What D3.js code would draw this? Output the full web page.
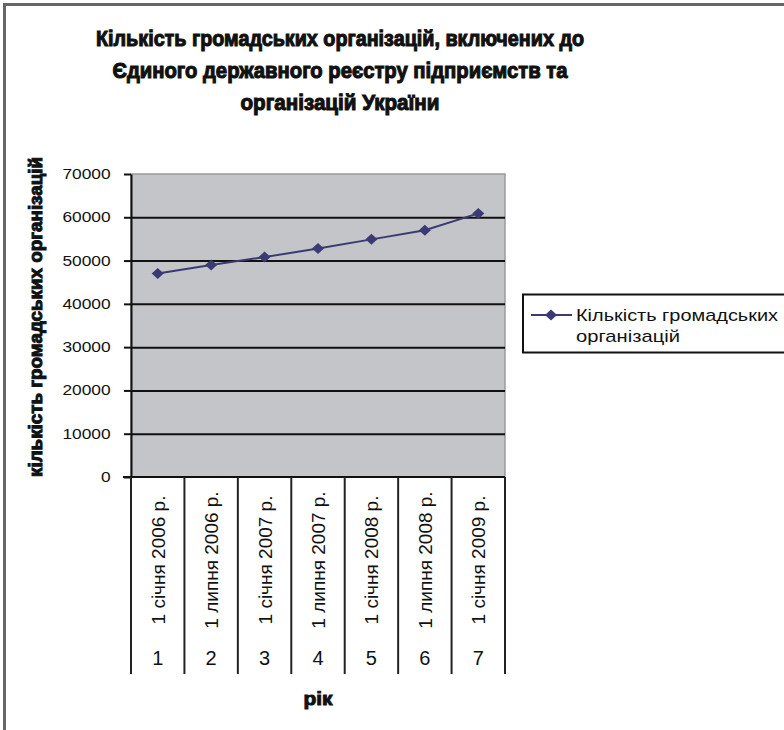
<!DOCTYPE html>
<html>
<head>
<meta charset="utf-8">
<script src="https://cdn.jsdelivr.net/npm/d3@7"></script>
<style>
  body { margin: 0; background: #fff; }
  svg { display: block; }
  text { fill: #111; }
</style>
</head>
<body>
<div class="c_chart"></div>
<script>
/* DATA
------------------------------------------------------ */
const categories = ["1 січня 2006 р.", "1 липня 2006 р.", "1 січня 2007 р.", "1 липня 2007 р.",
                    "1 січня 2008 р.", "1 липня 2008 р.", "1 січня 2009 р."];
const numbers = ["1", "2", "3", "4", "5", "6", "7"];
const values = [47000, 49000, 50800, 52800, 54900, 57000, 60900];
const yTicks = [0, 10000, 20000, 30000, 40000, 50000, 60000, 70000];
const titleLines = ["Кількість громадських організацій, включених до",
                    "Єдиного державного реєстру підприємств та",
                    "організацій України"];
const yTitle = "кількість громадських організацій";
const xTitle = "рік";
const legendLines = ["Кількість громадських", "організацій"];

/* SVG, FORMAT
------------------------------------------------------ */
const width = 784, height = 730;
const plot = {left: 131, right: 505, top: 174, bottom: 477};
const tableBottom = 674;
const lineColor = "#3b3a72";

let svg = d3.select(".c_chart").append("svg")
  .attr("width", width)
  .attr("height", height);

// outer chart frame (runs off the right and bottom edges)
svg.append("rect")
  .attr("x", 4.5).attr("y", 4.5)
  .attr("width", 820).attr("height", 760)
  .attr("fill", "#fff")
  .attr("stroke", "#666")
  .attr("stroke-width", 3);

/* SCALES
------------------------------------------------------ */
let x = d3.scaleBand()
  .domain(categories)
  .range([plot.left, plot.right]);

let y = d3.scaleLinear()
  .domain([0, 70000])
  .range([plot.bottom, plot.top]);

/* PLOT AREA
------------------------------------------------------ */
svg.append("rect")
  .attr("x", plot.left).attr("y", plot.top)
  .attr("width", plot.right - plot.left)
  .attr("height", plot.bottom - plot.top)
  .attr("fill", "#c4c5c8")
  .attr("stroke", "#9a9a9a")
  .attr("stroke-width", 1.5);

// gridlines
svg.append("g")
  .attr("transform", `translate(${plot.left},0)`)
  .call(d3.axisLeft(y).tickValues(yTicks.filter(d => d > 0 && d < 70000))
    .tickSize(-(plot.right - plot.left)).tickFormat(""))
  .call(g => g.select(".domain").remove())
  .call(g => g.selectAll("line").attr("stroke", "#111").attr("stroke-width", 2));

// y axis
let yAxis = svg.append("g")
  .attr("transform", `translate(${plot.left},0)`)
  .call(d3.axisLeft(y).tickValues(yTicks).tickFormat(d3.format("d"))
    .tickSize(7).tickPadding(0).tickSizeOuter(0));
yAxis.select(".domain").attr("stroke", "#111").attr("stroke-width", 2);
yAxis.selectAll(".tick line").attr("stroke", "#111").attr("stroke-width", 2);
yAxis.selectAll(".tick text")
  .attr("x", -16.4)
  .attr("transform", "scale(1.24,1)")
  .style("font-family", "'Liberation Sans', Arial, sans-serif")
  .style("font-size", "14px")
  .attr("fill", "#111");

// bottom axis line
svg.append("line")
  .attr("x1", plot.left - 8).attr("x2", plot.right)
  .attr("y1", plot.bottom).attr("y2", plot.bottom)
  .attr("stroke", "#111").attr("stroke-width", 2);

// category table lines
let bounds = categories.map(c => x(c)).concat([plot.right]);
svg.append("g").selectAll("line")
  .data(bounds)
  .join("line")
  .attr("x1", d => d).attr("x2", d => d)
  .attr("y1", plot.bottom).attr("y2", tableBottom)
  .attr("stroke", "#222").attr("stroke-width", 2);

// rotated date labels
svg.append("g").selectAll("text")
  .data(categories)
  .join("text")
  .attr("transform", d => `translate(${x(d) + x.bandwidth() / 2 + 7},560) rotate(-90)`)
  .attr("text-anchor", "middle")
  .style("font-family", "'Liberation Sans', Arial, sans-serif")
  .style("font-size", "19px")
  .text(d => d);

// number row
svg.append("g").selectAll("text")
  .data(numbers)
  .join("text")
  .attr("x", (d, i) => x(categories[i]) + x.bandwidth() / 2)
  .attr("y", 665)
  .attr("text-anchor", "middle")
  .style("font-family", "'Liberation Sans', Arial, sans-serif")
  .style("font-size", "20px")
  .text(d => d);

/* LINE + MARKERS
------------------------------------------------------ */
let cx = (d, i) => x(categories[i]) + x.bandwidth() / 2;
let line = d3.line()
  .x(cx)
  .y(d => y(d));

svg.append("path")
  .datum(values)
  .attr("d", line)
  .attr("fill", "none")
  .attr("stroke", lineColor)
  .attr("stroke-width", 2);

const diamond = "M0,-5.5L6,0L0,5.5L-6,0Z";
svg.append("g").selectAll("path")
  .data(values)
  .join("path")
  .attr("transform", (d, i) => `translate(${cx(d, i)},${y(d)})`)
  .attr("d", diamond)
  .attr("fill", lineColor);

/* TITLES
------------------------------------------------------ */
const boldFont = "'Liberation Sans Narrow', 'Liberation Sans', Arial, sans-serif";
const titleWidths = [488, 455, 199];
svg.append("g").selectAll("text")
  .data(titleLines)
  .join("text")
  .attr("x", 340)
  .attr("y", (d, i) => 46 + i * 32)
  .attr("text-anchor", "middle")
  .attr("textLength", (d, i) => titleWidths[i])
  .attr("lengthAdjust", "spacingAndGlyphs")
  .attr("stroke", "#111").attr("stroke-width", 1.1)
  .style("font-family", boldFont)
  .style("font-weight", "bold")
  .style("font-size", "22px")
  .text(d => d);

svg.append("text")
  .attr("transform", "translate(42,317) rotate(-90)")
  .attr("text-anchor", "middle")
  .attr("textLength", 320)
  .attr("lengthAdjust", "spacingAndGlyphs")
  .attr("stroke", "#111").attr("stroke-width", 1)
  .style("font-family", boldFont)
  .style("font-weight", "bold")
  .style("font-size", "19px")
  .text(yTitle);

svg.append("text")
  .attr("x", 318)
  .attr("y", 705)
  .attr("text-anchor", "middle")
  .attr("textLength", 29)
  .attr("lengthAdjust", "spacingAndGlyphs")
  .attr("stroke", "#111").attr("stroke-width", 1)
  .style("font-family", boldFont)
  .style("font-weight", "bold")
  .style("font-size", "19px")
  .text(xTitle);

/* LEGEND
------------------------------------------------------ */
let legend = svg.append("g");
legend.append("rect")
  .attr("x", 523).attr("y", 294.5)
  .attr("width", 300).attr("height", 58)
  .attr("fill", "#fff")
  .attr("stroke", "#111").attr("stroke-width", 2);
legend.append("line")
  .attr("x1", 531).attr("x2", 572)
  .attr("y1", 315).attr("y2", 315)
  .attr("stroke", lineColor).attr("stroke-width", 2);
legend.append("path")
  .attr("transform", "translate(551,315)")
  .attr("d", diamond)
  .attr("fill", lineColor);
const legendWidths = [202, 104];
legend.selectAll("text.lg")
  .data(legendLines)
  .join("text")
  .attr("class", "lg")
  .attr("x", 576)
  .attr("y", (d, i) => 321 + i * 21)
  .attr("textLength", (d, i) => legendWidths[i])
  .attr("lengthAdjust", "spacingAndGlyphs")
  .style("font-family", "'Liberation Sans', Arial, sans-serif")
  .style("font-size", "17px")
  .text(d => d);
</script>
</body>
</html>
